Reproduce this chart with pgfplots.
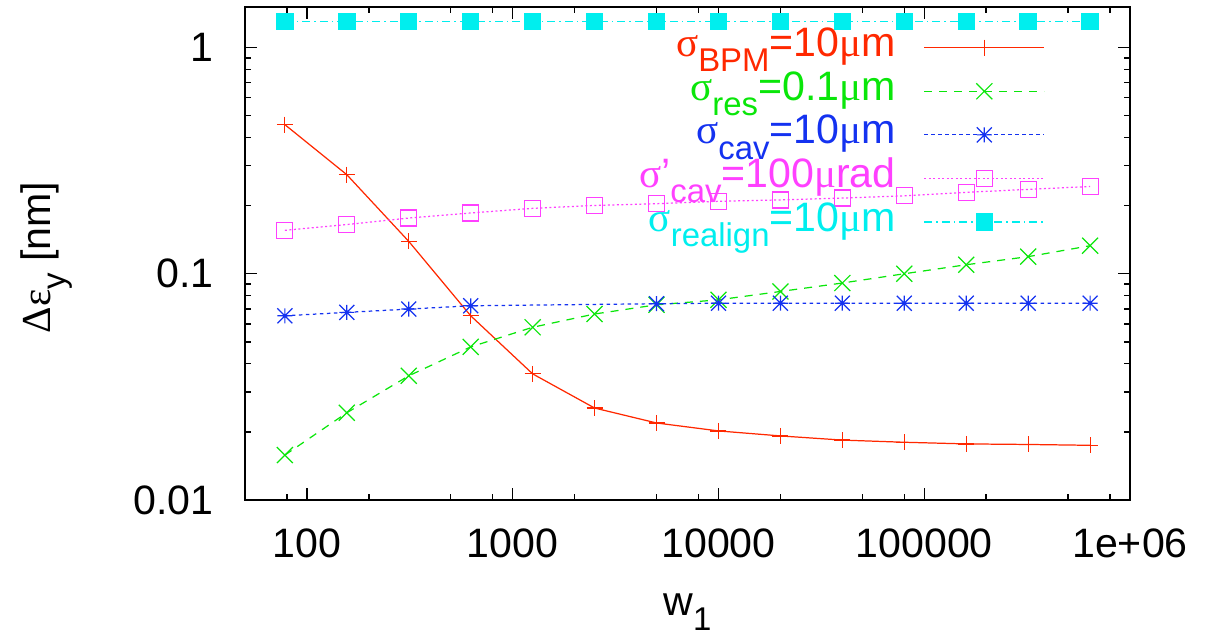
\documentclass[border=0pt]{standalone}
\usepackage{fontspec}
\setmainfont{Liberation Sans}
\newfontfamily\gk{Liberation Serif}
\usepackage{pgfplots}
\usepackage{pgfplotstable}
\pgfplotsset{compat=1.18}
\definecolor{cR}{RGB}{255,40,0}
\definecolor{cG}{RGB}{10,230,10}
\definecolor{cB}{RGB}{20,50,240}
\definecolor{cM}{RGB}{255,64,255}
\definecolor{cC}{RGB}{0,238,238}
\newcommand\fs{\fontsize{11.7}{14}\selectfont}
\newcommand\sub[1]{\raisebox{-0.37em}{\fontsize{9.36}{11}\selectfont #1}}
\pgfdeclareplotmark{gpstar}{%
 \pgfpathmoveto{\pgfqpoint{-\pgfplotmarksize}{0pt}}\pgfpathlineto{\pgfqpoint{\pgfplotmarksize}{0pt}}%
 \pgfpathmoveto{\pgfqpoint{0pt}{-\pgfplotmarksize}}\pgfpathlineto{\pgfqpoint{0pt}{\pgfplotmarksize}}%
 \pgfpathmoveto{\pgfqpoint{-\pgfplotmarksize}{-\pgfplotmarksize}}\pgfpathlineto{\pgfqpoint{\pgfplotmarksize}{\pgfplotmarksize}}%
 \pgfpathmoveto{\pgfqpoint{-\pgfplotmarksize}{\pgfplotmarksize}}\pgfpathlineto{\pgfqpoint{\pgfplotmarksize}{-\pgfplotmarksize}}%
 \pgfusepathqstroke}
\pgfplotstableread{
x        bpm     res     cavp    realign
78.125   0.456   0.0158  0.1556  1.30
156.25   0.274   0.0243  0.165   1.30
312.5    0.139   0.0354  0.1763  1.30
625      0.0652  0.0475  0.1856  1.30
1250     0.0361  0.0580  0.1946  1.30
2500     0.0255  0.0664  0.2004  1.30
5000     0.0219  0.0729  0.204   1.30
10000    0.0202  0.0767  0.209   1.30
20000    0.0192  0.0835  0.212   1.30
40000    0.0184  0.0910  0.216   1.30
80000    0.0180  0.1000  0.221   1.30
160000   0.0177  0.1096  0.229   1.30
320000   0.0176  0.1190  0.236   1.30
640000   0.01745 0.1330  0.243   1.30
}\data
\pgfplotstableread{
x        cav
78.125   0.0652
156.25   0.0675
312.5    0.0698
625      0.0722
5000     0.0737
10000    0.0741
20000    0.0741
40000    0.0741
80000    0.0741
160000   0.0741
320000   0.0741
640000   0.0741
}\cavdata
\begin{document}
\begin{tikzpicture}
\useasboundingbox (0,0) rectangle (120.6mm,63.4mm);
\begin{axis}[
  at={(24.5mm,13.4mm)}, anchor=south west,
  scale only axis, width=88.5mm, height=49.3mm,
  xmode=log, ymode=log,
  xmin=50, xmax=1e6, ymin=0.01, ymax=1.51,
  xtick={100,1000,10000,100000,1000000},
  xticklabels={100,1000,10000,100000,1e+06},
  ytick={0.01,0.1,1}, yticklabels={0.01,0.1,1},
  minor xtick={80,200,500,800,2000,5000,8000,20000,50000,80000,200000,500000,800000},
  minor ytick={0.02,0.03,0.04,0.05,0.06,0.07,0.08,0.09,0.2,0.3,0.4,0.5,0.6,0.7,0.8,0.9},
  major tick length=1.2mm, minor tick length=0.6mm,
  tick style={black, line width=0.4pt},
  axis line style={line width=0.5pt},
  tick label style={font=\fs},
  xticklabel style={yshift=-1.6mm},
  yticklabel style={xshift=-1.9mm},
  xlabel={w\sub{1}},
  ylabel={{\gk Δε}\sub{y} [nm]},
  xlabel style={font=\fs, at={(axis description cs:0.5,-0.2333)}, anchor=base},
  ylabel style={font=\fs, at={(axis description cs:-0.2203,0.4919)}, anchor=base},
  legend cell align=right, legend plot pos=right,
  legend style={draw=none, fill=none, at={(axis description cs:0.904,0.9617)}, anchor=north east,
    inner sep=0pt, outer sep=0pt, row sep=0pt, column sep=2.8mm, font=\fs,
    nodes={inner sep=0pt, text height=3.08mm, text depth=1.28mm}},
  legend image code/.code={\draw[mark repeat=2,mark phase=2] plot coordinates {(0mm,0mm) (6mm,0mm) (12mm,0mm)};},
]
\addplot[cR, line width=0.35pt, mark=+, mark size=0.8mm, mark options={solid}] table[x=x,y=bpm] {\data};
\addlegendentry{\textcolor{cR}{{\gk σ}\sub{BPM}=10{\gk μ}m}}
\addplot[cG, line width=0.35pt, dash pattern=on 0.8mm off 0.7mm, mark=x, mark size=1.13mm, mark options={solid}] table[x=x,y=res] {\data};
\addlegendentry{\textcolor{cG}{{\gk σ}\sub{res}=0.1{\gk μ}m}}
\addplot[cB, line width=0.35pt, dash pattern=on 0.35mm off 0.35mm, mark=gpstar, mark size=0.75mm, mark options={solid}] table[x=x,y=cav] {\cavdata};
\addlegendentry{\textcolor{cB}{{\gk σ}\sub{cav}=10{\gk μ}m}}
\addplot[cM, line width=0.35pt, dash pattern=on 0.2mm off 0.25mm, mark=square, mark size=0.8mm, mark options={solid}] table[x=x,y=cavp] {\data};
\addlegendentry{\textcolor{cM}{{\gk σ}’\sub{cav}=100{\gk μ}rad}}
\addplot[cC, line width=0.4pt, dash pattern=on 0.8mm off 0.4mm on 0.15mm off 0.4mm, mark=square*, mark size=0.8mm, mark options={solid, fill=cC}] table[x=x,y=realign] {\data};
\addlegendentry{\textcolor{cC}{{\gk σ}\sub{realign}=10{\gk μ}m}}
\end{axis}
\end{tikzpicture}
\end{document}
